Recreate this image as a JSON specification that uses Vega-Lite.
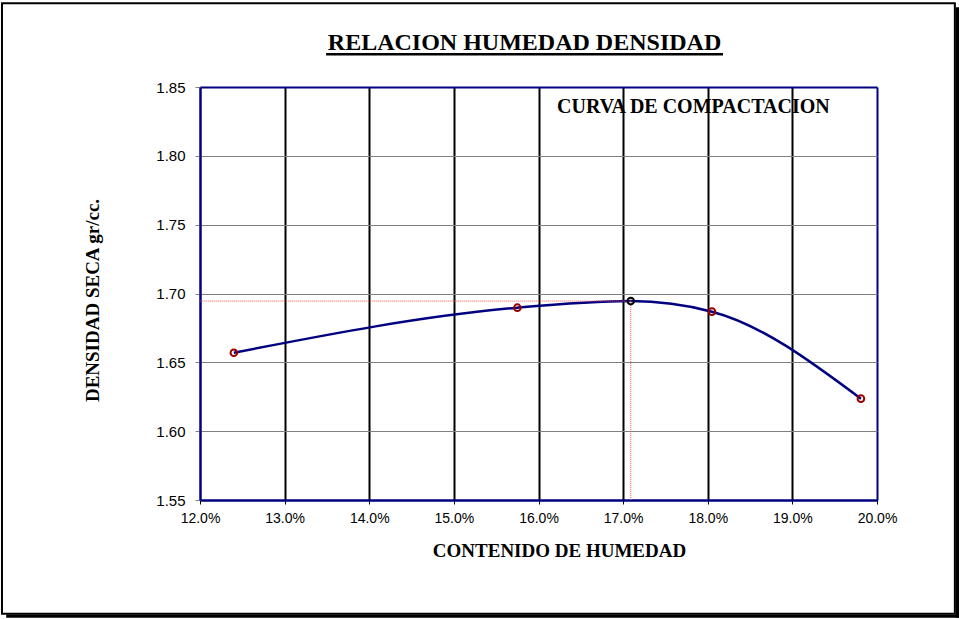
{
  "$schema": "https://vega.github.io/schema/vega-lite/v6.json",
  "width": 677,
  "height": 413,
  "autosize": "none",
  "padding": {"left": 200, "top": 87, "right": 82, "bottom": 119},
  "background": "white",
  "config": {"view": {"stroke": null}, "font": "Liberation Sans"},
  "datasets": {
    "ensayos": [
      {"humedad": 0.1240, "densidad": 1.6570},
      {"humedad": 0.1575, "densidad": 1.6897},
      {"humedad": 0.1805, "densidad": 1.6868},
      {"humedad": 0.1981, "densidad": 1.6236}
    ],
    "maximo": [
      {"humedad": 0.1709, "densidad": 1.6945}
    ],
    "curva": [
      {"humedad": 0.1240, "densidad": 1.6570},
      {"humedad": 0.1575, "densidad": 1.6897},
      {"humedad": 0.1709, "densidad": 1.6945},
      {"humedad": 0.1805, "densidad": 1.6868},
      {"humedad": 0.1981, "densidad": 1.6236}
    ]
  },
  "layer": [
    {
      "data": {"name": "curva"},
      "mark": {"type": "line", "color": "#000080", "strokeWidth": 2.5, "interpolate": "monotone"},
      "encoding": {
        "x": {
          "field": "humedad", "type": "quantitative",
          "scale": {"domain": [0.12, 0.2], "nice": false, "zero": false},
          "axis": {
            "title": "CONTENIDO DE HUMEDAD",
            "values": [0.12, 0.13, 0.14, 0.15, 0.16, 0.17, 0.18, 0.19, 0.2],
            "format": ".1%",
            "labelFont": "Liberation Sans", "labelFontSize": 14, "labelColor": "black", "labelPadding": 7, "labelFlush": false,
            "tickSize": 4, "tickColor": "black",
            "domainColor": "#000080", "domainWidth": 2,
            "grid": true,
            "gridColor": {"condition": {"test": "datum.value < 0.1201 || datum.value > 0.1999", "value": "#000080"}, "value": "black"},
            "gridWidth": 2, "gridOpacity": 1,
            "titleFont": "Liberation Serif", "titleFontSize": 19, "titleFontWeight": "bold", "titleColor": "black",
            "titlePadding": 16, "titleX": 359
          }
        },
        "y": {
          "field": "densidad", "type": "quantitative",
          "scale": {"domain": [1.55, 1.85], "nice": false, "zero": false},
          "axis": {
            "title": "DENSIDAD SECA gr/cc.",
            "values": [1.55, 1.6, 1.65, 1.7, 1.75, 1.8, 1.85],
            "format": ".2f",
            "labelFont": "Liberation Sans", "labelFontSize": 15, "labelColor": "black", "labelPadding": 10,
            "tickSize": 5, "tickColor": "#808080",
            "domainColor": "#000080", "domainWidth": 2,
            "grid": true,
            "gridColor": {"condition": {"test": "datum.value < 1.5501 || datum.value > 1.8499", "value": "#000080"}, "value": "#808080"},
            "gridWidth": {"condition": {"test": "datum.value < 1.5501 || datum.value > 1.8499", "value": 2}, "value": 1},
            "gridOpacity": 1,
            "titleFont": "Liberation Serif", "titleFontSize": 19, "titleFontWeight": "bold", "titleColor": "black",
            "titlePadding": 53, "titleY": 213
          }
        }
      }
    },
    {
      "data": {"name": "maximo"},
      "mark": {"type": "rule", "color": "#ff5050", "strokeWidth": 1, "strokeDash": [1, 1]},
      "encoding": {
        "x": {"field": "humedad", "type": "quantitative"},
        "x2": {"datum": 0.12},
        "y": {"field": "densidad", "type": "quantitative"}
      }
    },
    {
      "data": {"name": "maximo"},
      "mark": {"type": "rule", "color": "#ff5050", "strokeWidth": 1, "strokeDash": [1, 1]},
      "encoding": {
        "x": {"field": "humedad", "type": "quantitative"},
        "y": {"field": "densidad", "type": "quantitative"},
        "y2": {"datum": 1.55}
      }
    },
    {
      "data": {"name": "ensayos"},
      "mark": {"type": "point", "filled": false, "color": "#990000", "size": 44, "strokeWidth": 2, "opacity": 1},
      "encoding": {
        "x": {"field": "humedad", "type": "quantitative"},
        "y": {"field": "densidad", "type": "quantitative"}
      }
    },
    {
      "data": {"name": "maximo"},
      "mark": {"type": "point", "filled": false, "color": "black", "size": 44, "strokeWidth": 2, "opacity": 1},
      "encoding": {
        "x": {"field": "humedad", "type": "quantitative"},
        "y": {"field": "densidad", "type": "quantitative"}
      }
    },
    {
      "data": {"values": [{"label": "CURVA DE COMPACTACION"}]},
      "mark": {"type": "text", "font": "Liberation Serif", "fontSize": 20, "fontWeight": "bold", "color": "black", "align": "center", "baseline": "middle"},
      "encoding": {
        "x": {"datum": 0.1783, "type": "quantitative"},
        "y": {"datum": 1.8353, "type": "quantitative"},
        "text": {"field": "label"}
      }
    },
    {
      "data": {"values": [{"label": "RELACION HUMEDAD DENSIDAD"}]},
      "mark": {"type": "text", "font": "Liberation Serif", "fontSize": 24, "fontWeight": "bold", "color": "black", "align": "center", "baseline": "alphabetic"},
      "encoding": {
        "x": {"datum": 0.15835, "type": "quantitative"},
        "y": {"datum": 1.8766, "type": "quantitative"},
        "text": {"field": "label"}
      }
    },
    {
      "data": {"values": [{"k": 1}]},
      "mark": {"type": "rule", "color": "black", "strokeWidth": 2.5},
      "encoding": {
        "x": {"datum": 0.1349, "type": "quantitative"},
        "x2": {"datum": 0.1818},
        "y": {"datum": 1.8737, "type": "quantitative"}
      }
    },
    {
      "data": {"values": [{"k": 1}]},
      "mark": {"type": "rect", "filled": false, "stroke": "black", "strokeWidth": 2},
      "encoding": {
        "x": {"datum": 0.0966, "type": "quantitative"},
        "x2": {"datum": 0.2092},
        "y": {"datum": 1.9108, "type": "quantitative"},
        "y2": {"datum": 1.4673}
      }
    },
    {
      "data": {"values": [{"k": 1}]},
      "mark": {"type": "rect", "color": "black"},
      "encoding": {
        "x": {"datum": 0.2093, "type": "quantitative"},
        "x2": {"datum": 0.2097},
        "y": {"datum": 1.9079, "type": "quantitative"},
        "y2": {"datum": 1.4644}
      }
    },
    {
      "data": {"values": [{"k": 1}]},
      "mark": {"type": "rect", "color": "black"},
      "encoding": {
        "x": {"datum": 0.0971, "type": "quantitative"},
        "x2": {"datum": 0.2097},
        "y": {"datum": 1.4668, "type": "quantitative"},
        "y2": {"datum": 1.4644}
      }
    }
  ]
}
